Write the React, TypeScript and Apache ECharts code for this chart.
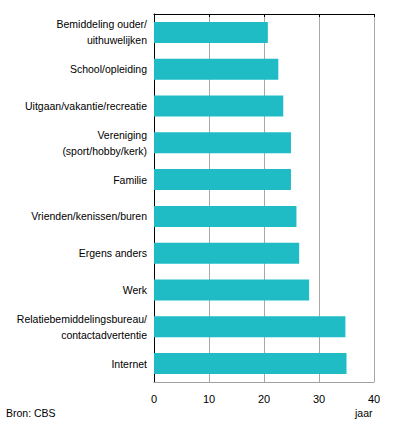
import React, { useEffect, useRef } from "react";
import * as echarts from "echarts";

const categories = [
  "Bemiddeling ouder/\nuithuwelijken",
  "School/opleiding",
  "Uitgaan/vakantie/recreatie",
  "Vereniging\n(sport/hobby/kerk)",
  "Familie",
  "Vrienden/kenissen/buren",
  "Ergens anders",
  "Werk",
  "Relatiebemiddelingsbureau/\ncontactadvertentie",
  "Internet",
];
const values = [20.7, 22.6, 23.5, 24.9, 24.9, 25.9, 26.4, 28.2, 34.8, 35.0];
const xTicks = [0, 10, 20, 30, 40];

const FONT = "'Liberation Sans', Arial, sans-serif";
const FS = 10.5;

export default function App() {
  const ref = useRef<HTMLDivElement>(null);
  useEffect(() => {
    if (!ref.current) return;
    const chart = echarts.init(ref.current, undefined, { renderer: "svg" });
    chart.setOption({
      animation: false,
      textStyle: { fontFamily: FONT },
      grid: { left: 154, top: 14, right: 22, bottom: 48, containLabel: false },
      xAxis: [
        {
          type: "value",
          position: "bottom",
          min: xTicks[0],
          max: xTicks[xTicks.length - 1],
          interval: 10,
          axisLine: { show: true, lineStyle: { color: "#a0a0a0", width: 1 } },
          axisTick: { show: false },
          axisLabel: { color: "#000", fontSize: 11, margin: 11, fontFamily: FONT },
          splitLine: { show: true, lineStyle: { color: "#a8a8a8", width: 1 } },
        },
        {
          type: "value",
          position: "top",
          min: 0,
          max: 40,
          interval: 10,
          axisLine: { show: true, lineStyle: { color: "#000", width: 1 } },
          axisTick: { show: true, inside: true, length: 3, lineStyle: { color: "#000" } },
          axisLabel: { show: false },
          splitLine: { show: false },
        },
      ],
      yAxis: {
        type: "category",
        inverse: true,
        data: categories,
        axisLine: { show: true, lineStyle: { color: "#000", width: 1 } },
        axisTick: { show: false },
        axisLabel: {
          color: "#000",
          fontSize: FS,
          lineHeight: 16,
          margin: 7,
          align: "right",
          fontFamily: FONT,
        },
      },
      series: [
        {
          type: "bar",
          data: values,
          barWidth: 21,
          itemStyle: { color: "#1fbcc6" },
          xAxisIndex: 0,
        },
      ],
      graphic: [
        {
          type: "text",
          left: 6,
          top: 407,
          style: { text: "Bron: CBS", fontSize: FS, fill: "#000", fontFamily: FONT },
        },
        {
          type: "text",
          left: 355,
          top: 407,
          style: { text: "jaar", fontSize: FS, fill: "#000", fontFamily: FONT },
        },
      ],
    });
    return () => chart.dispose();
  }, []);
  return (
    <div
      ref={ref}
      style={{ position: "fixed", left: 0, top: 0, width: 396, height: 430, background: "#fff" }}
    />
  );
}
